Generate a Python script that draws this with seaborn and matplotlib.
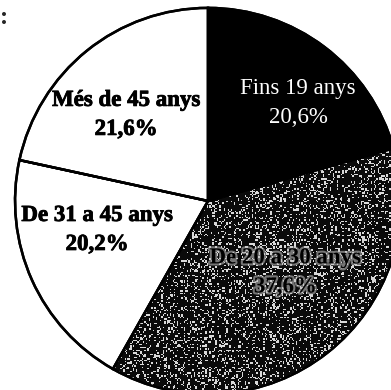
import numpy as np
import matplotlib
matplotlib.use("Agg")
import matplotlib.pyplot as plt
import matplotlib.patheffects as pe
import seaborn as sns

# Age groups and their shares (%)
categories = ["Fins 19 anys", "De 20 a 30 anys", "De 31 a 45 anys", "Més de 45 anys"]
shares = [20.6, 37.6, 20.2, 21.6]
share_labels = ["20,6%", "37,6%", "20,2%", "21,6%"]

sns.set_theme(style="white")
plt.rcParams["font.family"] = ["Liberation Serif", "DejaVu Serif"]

fig = plt.figure(figsize=(3.91, 3.90), dpi=100)
ax = fig.add_axes([0, 0, 1, 1])
ax.set_axis_off()

fills = ["black", "#1e1e1e", "white", "white"]
wedges, _ = ax.pie(
    shares,
    startangle=90,
    counterclock=False,
    colors=fills,
    radius=1.0,
    wedgeprops=dict(edgecolor="black", linewidth=1.8),
)

# Grainy speckle texture inside the 20-30 wedge
rng = np.random.default_rng(7)
noise = rng.random((300, 300))
speck = np.where(noise > 0.80, 0.85, 0.04)
tex = ax.imshow(speck, cmap="gray", vmin=0, vmax=1, extent=(-1.1, 1.1, -1.1, 1.1),
                interpolation="nearest", zorder=1.5)
tex.set_clip_path(wedges[1])
# redraw the outline on top
ax.pie(shares, startangle=90, counterclock=False, radius=1.0,
       colors=["none"] * 4,
       wedgeprops=dict(edgecolor="black", linewidth=1.8, fill=False, zorder=3))

label_pos = [(0.466, 0.508), (0.40, -0.37), (-0.575, -0.15), (-0.425, 0.446)]
label_color = ["white", "black", "black", "black"]
label_weight = ["normal", "bold", "bold", "bold"]
for i, (cat, lab, (x, y), c, w) in enumerate(
        zip(categories, share_labels, label_pos, label_color, label_weight)):
    t = ax.text(x, y, f"{cat}\n{lab}", ha="center", va="center", fontsize=16.5,
                color=c, fontweight=w, linespacing=1.5, zorder=4)
    if i == 1:
        t.set_path_effects([pe.withStroke(linewidth=3, foreground="#bdbdbd", alpha=0.6)])
    elif i > 1:
        t.set_path_effects([pe.withStroke(linewidth=0.6, foreground="black")])

ax.set_xlim(-1.078, 0.948)
ax.set_ylim(-0.979, 1.041)
ax.set_aspect("auto")

fig.text(0.0, 0.955, ":", fontsize=18, fontweight="bold", ha="left", va="center")

fig.savefig("out.png", dpi=100)
